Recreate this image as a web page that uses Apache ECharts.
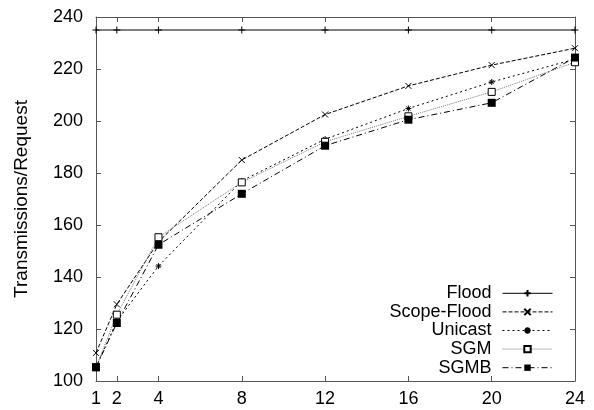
<!DOCTYPE html>
<html>
<head>
<meta charset="utf-8">
<script src="https://cdn.jsdelivr.net/npm/echarts@6/dist/echarts.min.js"></script>
<style>html,body{margin:0;padding:0;background:#fff}#c{width:594px;height:410px}</style>
</head>
<body>
<div id="c"></div>
<script>
var xValues = [1, 2, 4, 8, 12, 16, 20, 24];
var xTicks = [1, 2, 4, 8, 12, 16, 20, 24];
var yTicks = [100, 120, 140, 160, 180, 200, 220, 240];
var flood = [235, 235, 235, 235, 235, 235, 235, 235];
var scopeFlood = [110.8, 129.5, 153.5, 185, 202.5, 213.5, 221.5, 228];
var unicast = [105.3, 123, 144.2, 177, 193, 204.8, 215, 223.8];
var sgm = [105.3, 125.5, 155.3, 176.4, 192, 201.8, 211.2, 222.6];
var sgmb = [105.3, 122.3, 152.4, 172, 190.5, 200.5, 207, 224.4];

function pts(arr) { return xValues.map(function (x, i) { return [x, arr[i]]; }); }

var FONT = 'Liberation Sans';
var plusPath = 'path://M0,5L10,5M5,0L5,10';
var crossPath = 'path://M0,0L10,10M10,0L0,10';
var starPath = 'path://M0,5L10,5M5,0L5,10M1.5,1.5L8.5,8.5M8.5,1.5L1.5,8.5';

function mk(name, data, dash, color, symbol, size, itemStyle) {
  return {
    name: name, type: 'line', data: pts(data), symbol: symbol, symbolSize: size,
    showAllSymbol: true, animation: false,
    lineStyle: { color: color, width: 1, type: dash },
    itemStyle: itemStyle,
    emphasis: { disabled: true }
  };
}

var chart = echarts.init(document.getElementById('c'), null, { renderer: 'canvas' });
var axisLineStyle = { color: '#555', width: 1 };
chart.setOption({
  animation: false,
  grid: { left: 96, right: 19, top: 17, bottom: 29 },
  xAxis: [{
    type: 'value', min: 1, max: 24, position: 'bottom',
    axisLine: { show: true, lineStyle: axisLineStyle },
    axisTick: { show: true, inside: true, length: 5, lineStyle: axisLineStyle, customValues: xTicks },
    axisLabel: { customValues: xTicks, color: '#000', fontSize: 18, fontFamily: FONT, margin: 9 },
    splitLine: { show: false }
  }, {
    type: 'value', min: 1, max: 24, position: 'top',
    axisLine: { show: true, lineStyle: axisLineStyle },
    axisTick: { show: true, inside: true, length: 5, lineStyle: axisLineStyle, customValues: xTicks },
    axisLabel: { show: false },
    splitLine: { show: false }
  }],
  yAxis: [{
    type: 'value', min: 100, max: 240, interval: 20, position: 'left',
    name: 'Transmissions/Request', nameLocation: 'middle', nameGap: 65,
    nameTextStyle: { color: '#000', fontSize: 19, fontFamily: FONT },
    axisLine: { show: true, lineStyle: axisLineStyle },
    axisTick: { show: true, inside: true, length: 5, lineStyle: axisLineStyle },
    axisLabel: { color: '#000', fontSize: 18, fontFamily: FONT, margin: 13 },
    splitLine: { show: false }
  }, {
    type: 'value', min: 100, max: 240, interval: 20, position: 'right',
    axisLine: { show: true, lineStyle: axisLineStyle },
    axisTick: { show: true, inside: true, length: 5, lineStyle: axisLineStyle },
    axisLabel: { show: false },
    splitLine: { show: false }
  }],
  legend: {
    orient: 'vertical', right: 41, top: 284, align: 'right',
    itemWidth: 50, itemHeight: 8, itemGap: 0, padding: 0,
    selectedMode: false,
    lineStyle: { width: 1 },
    textStyle: { color: '#000', fontSize: 18, fontFamily: FONT, width: 108, align: 'right', lineHeight: 18.6, padding: [0, 6, 0, 0] },
    data: ['Flood', 'Scope-Flood', 'Unicast', 'SGM', 'SGMB']
  },
  series: [
    mk('Flood', flood, 'solid', '#000', plusPath, 7, { color: 'transparent', borderColor: '#000', borderWidth: 1 }),
    mk('Scope-Flood', scopeFlood, [4, 2], '#000', crossPath, 6, { color: 'transparent', borderColor: '#000', borderWidth: 1 }),
    mk('Unicast', unicast, [2, 3], '#000', starPath, 6, { color: 'transparent', borderColor: '#000', borderWidth: 1 }),
    mk('SGM', sgm, [1, 1], '#777', 'rect', 7, { color: '#fff', borderColor: '#000', borderWidth: 1 }),
    mk('SGMB', sgmb, [6, 3, 1, 3], '#000', 'rect', 8, { color: '#000', borderColor: '#000', borderWidth: 0 })
  ]
});
</script>
</body>
</html>
